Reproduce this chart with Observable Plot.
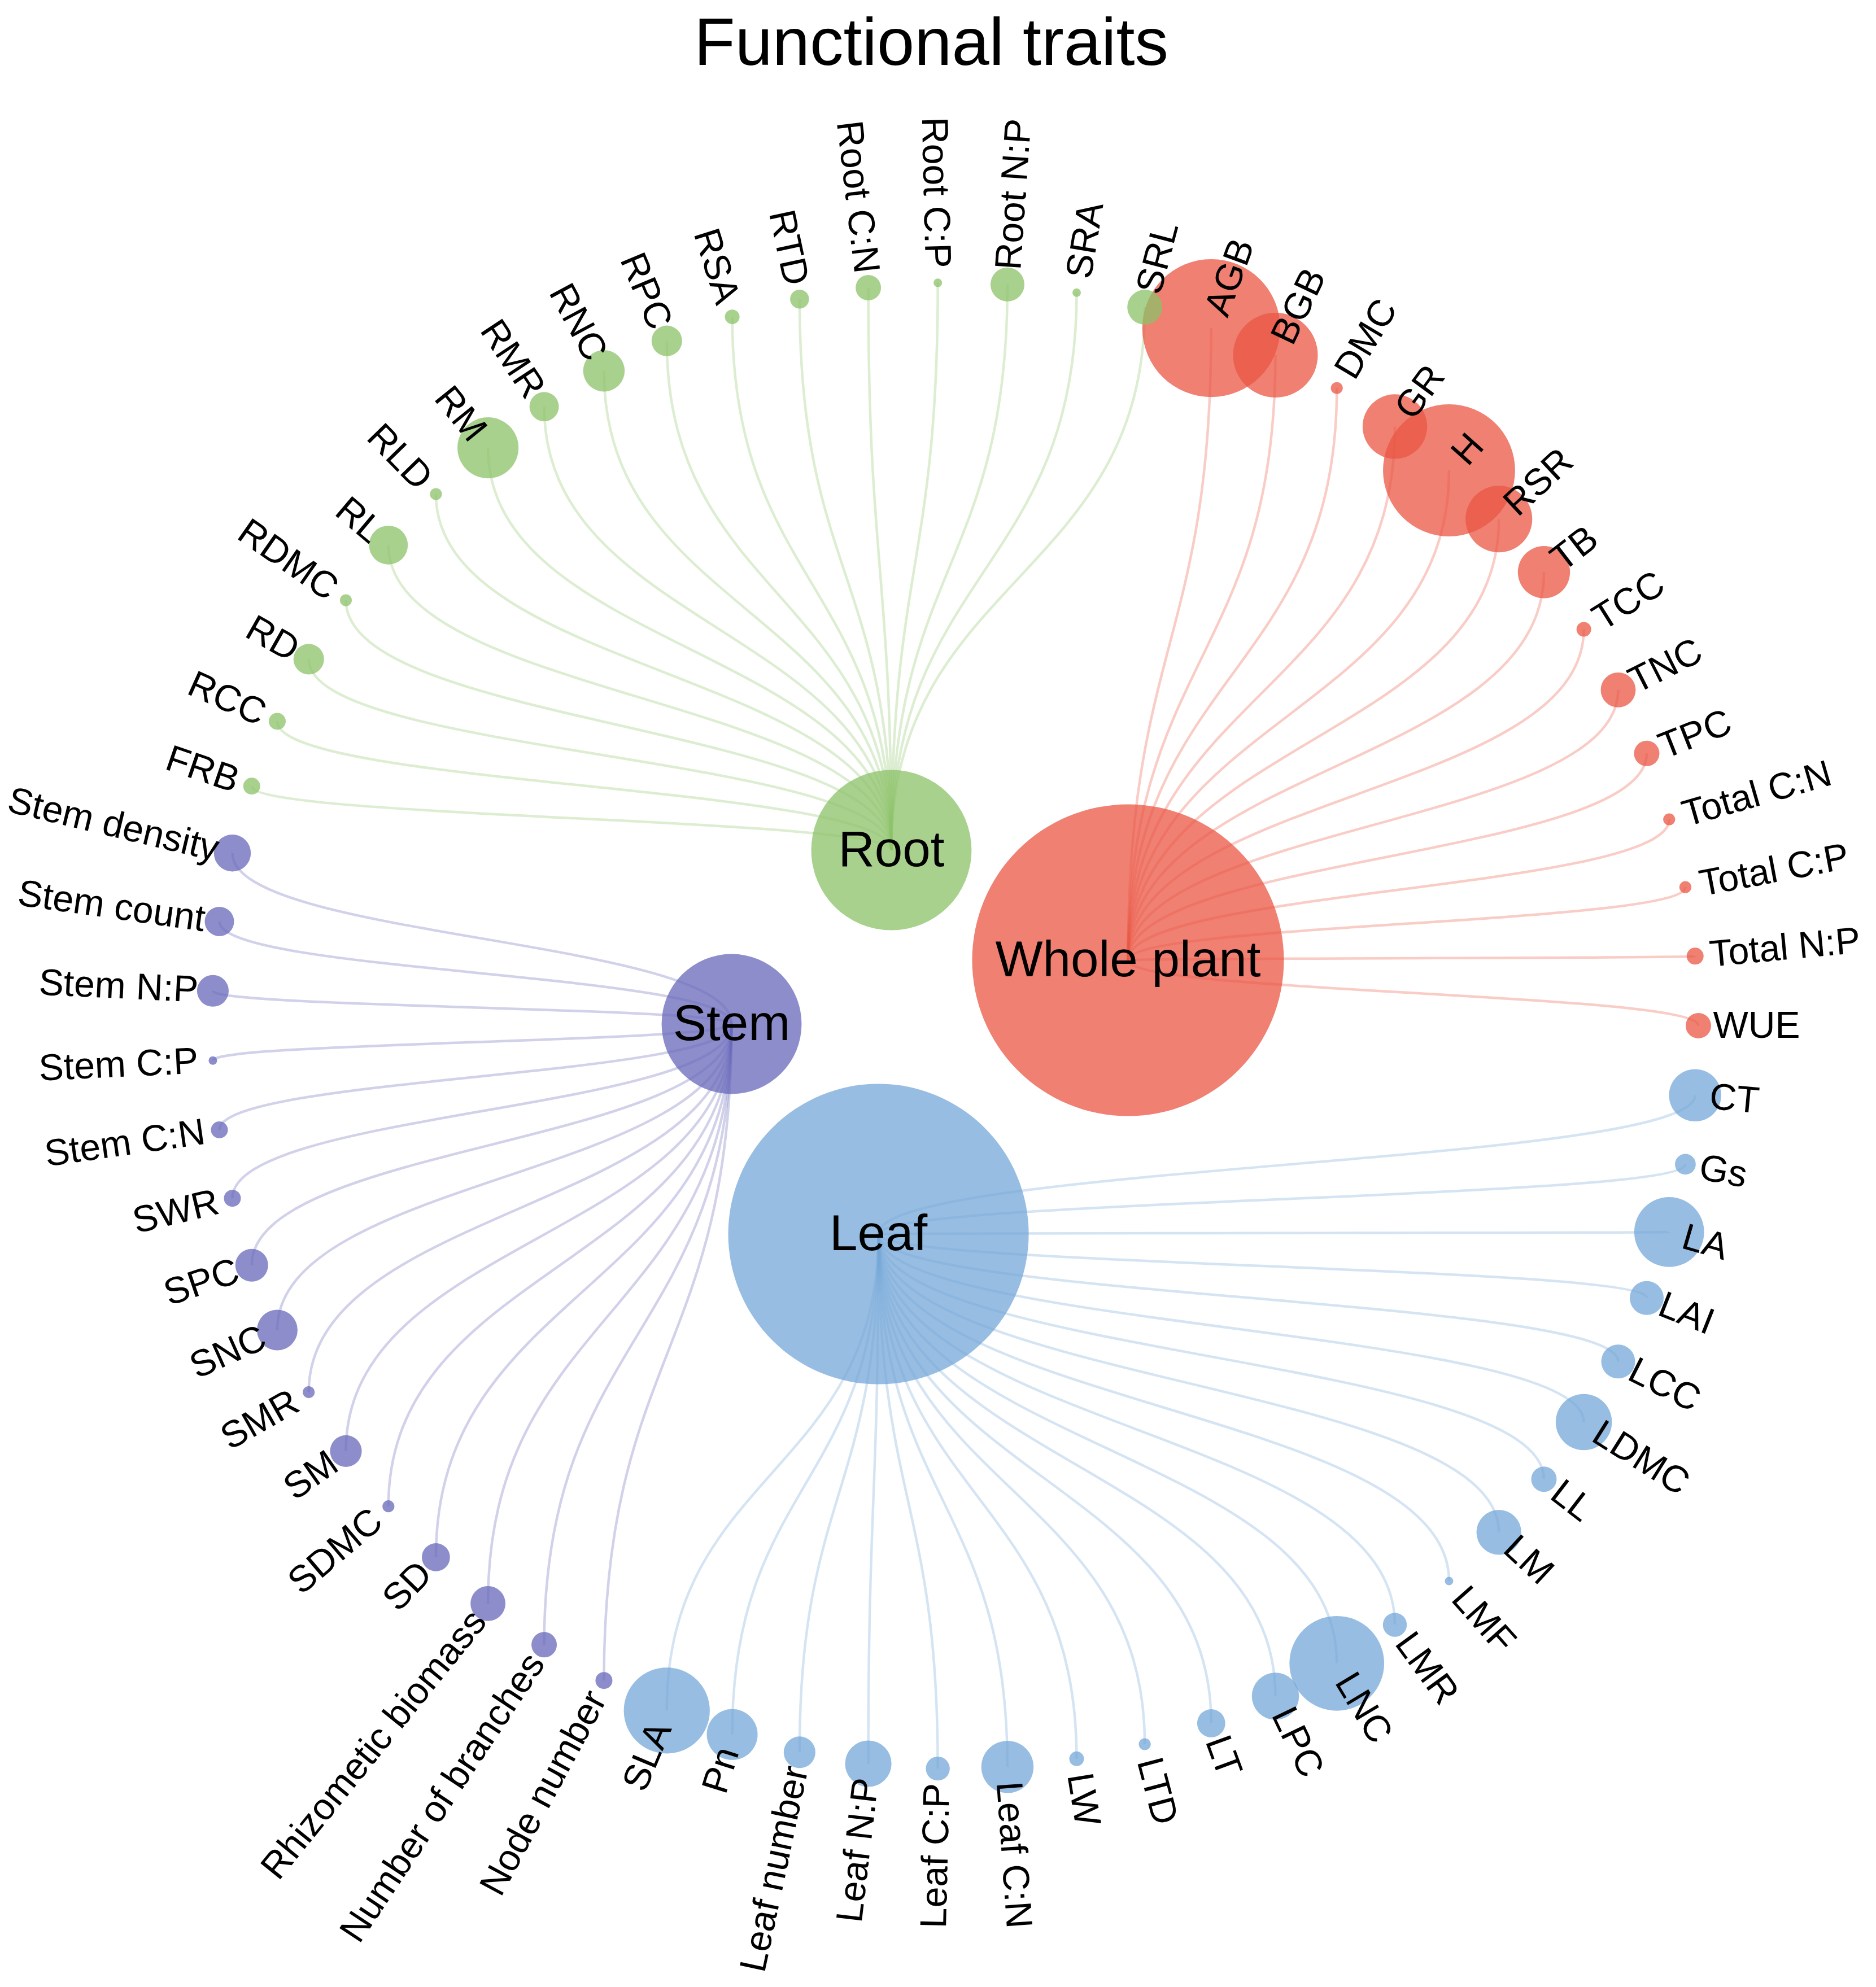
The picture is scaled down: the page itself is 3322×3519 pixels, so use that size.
<!DOCTYPE html>
<html>
<head>
<meta charset="utf-8">
<script src="https://cdn.jsdelivr.net/npm/d3@7"></script>
<script src="https://cdn.jsdelivr.net/npm/@observablehq/plot@0.6"></script>
<style>
html, body { margin: 0; padding: 0; background: #fff; }
#title {
  width: 3322px; height: 148px; line-height: 148px;
  font-family: "Liberation Sans", Arial, sans-serif; font-size: 119px;
  text-align: center; color: #000; padding-right: 24px; box-sizing: border-box;
}
#chart svg { display: block; }
</style>
</head>
<body>
<div id="title">Functional traits</div>
<div id="chart"></div>
<script>
// ---------------- data ----------------
const groups = ["Whole plant", "Leaf", "Stem", "Root"];
const groupValues = [1354, 1258, 273, 358];

const wholePlantTraits = ["AGB","BGB","DMC","GR","H","RSR","TB","TCC","TNC","TPC","Total C:N","Total C:P","Total N:P","WUE"];
const wholePlantValues = [265, 100, 2, 58, 243, 62, 38, 3, 17, 9, 2, 2, 4, 9];

const leafTraits = ["CT","Gs","LA","LAI","LCC","LDMC","LL","LM","LMF","LMR","LNC","LPC","LT","LTD","LW","Leaf C:N","Leaf C:P","Leaf N:P","Leaf number","Pn","SLA"];
const leafValues = [38, 6, 68, 16, 16, 44, 9, 28, 1, 8, 125, 31, 11, 2, 3, 38, 8, 30, 14, 36, 103];

const stemTraits = ["Node number","Number of branches","Rhizometic biomass","SD","SDMC","SM","SMR","SNC","SPC","SWR","Stem C:N","Stem C:P","Stem N:P","Stem count","Stem density"];
const stemValues = [4, 9, 17, 11, 2, 14, 2, 23, 15, 4, 4, 1, 14, 12, 19];

const rootTraits = ["FRB","RCC","RD","RDMC","RL","RLD","RM","RMR","RNC","RPC","RSA","RTD","Root C:N","Root C:P","Root N:P","SRA","SRL"];
const rootValues = [4, 4, 13, 2, 21, 2, 52, 12, 24, 13, 3, 5, 9, 1, 16, 1, 17];

// ---------------- layout / style ----------------
const groupColors = ["#EA5643", "#74A7D8", "#6767BA", "#8CC268"];
const layout = {
  width: 3322, height: 3371,
  cx: 1691, cy: 1668, R: 1316,
  startAngle: 20.15,       // degrees, clockwise from top, of first trait
  labelOffset: 26,         // px beyond node centre
  hubs: {                  // unit-circle coordinates of group hubs
    "Whole plant": [0.2325, -0.0881],
    "Leaf": [-0.1033, 0.2804],
    "Stem": [-0.3009, -0.0023],
    "Root": [-0.0859, -0.2363]
  }
};
const font = "'Liberation Sans', Arial, sans-serif";

// ---------------- build nodes ----------------
const groupTraits = [wholePlantTraits, leafTraits, stemTraits, rootTraits];
const groupTraitValues = [wholePlantValues, leafValues, stemValues, rootValues];
const nLeaves = groupTraits.reduce((s, a) => s + a.length, 0);
const step = 360 / nLeaves;
const off = layout.labelOffset / layout.R;

const hubs = groups.map((g, i) => ({
  name: g, group: g, value: groupValues[i],
  x: layout.hubs[g][0], y: layout.hubs[g][1]
}));
const hubBy = Object.fromEntries(hubs.map(h => [h.name, h]));

const leaves = [];
let k = 0;
groups.forEach((g, gi) => {
  groupTraits[gi].forEach((name, j) => {
    const a = layout.startAngle + k * step; k++;
    const ang = ((a % 360) + 360) % 360;
    const rad = ang * Math.PI / 180;
    const right = ang < 180;
    leaves.push({
      name, group: g, value: groupTraitValues[gi][j],
      x: Math.sin(rad), y: -Math.cos(rad),
      lx: (1 + off) * Math.sin(rad), ly: -(1 + off) * Math.cos(rad),
      right, rotate: right ? ang - 90 : ang + 90 - 360
    });
  });
});

const links = leaves.map(l => ({
  group: l.group,
  x1: hubBy[l.group].x, y1: hubBy[l.group].y,
  x2: l.x, y2: l.y
}));

// ---------------- plot ----------------
const chart = Plot.plot({
  width: layout.width,
  height: layout.height,
  margin: 0,
  x: { domain: [-1, 1], range: [layout.cx - layout.R, layout.cx + layout.R], axis: null },
  y: { domain: [-1, 1], range: [layout.cy - layout.R, layout.cy + layout.R], axis: null },
  r: { type: "sqrt", domain: [0, 1354], range: [0, 276] },
  color: { domain: groups, range: groupColors },
  style: { fontFamily: font, background: "#fff" },
  marks: [
    Plot.link(links, {
      x1: "x1", y1: "y1", x2: "x2", y2: "y2",
      curve: "bump-y", stroke: "group", strokeOpacity: 0.3, strokeWidth: 4.5
    }),
    Plot.dot(hubs, { x: "x", y: "y", r: "value", fill: "group", fillOpacity: 0.75 }),
    Plot.dot(leaves, { x: "x", y: "y", r: "value", fill: "group", fillOpacity: 0.75 }),
    Plot.text(leaves.filter(d => d.right), {
      x: "lx", y: "ly", text: "name", rotate: "rotate",
      textAnchor: "start", fontSize: 66, fill: "#000", fontFamily: font
    }),
    Plot.text(leaves.filter(d => !d.right), {
      x: "lx", y: "ly", text: "name", rotate: "rotate",
      textAnchor: "end", fontSize: 66, fill: "#000", fontFamily: font
    }),
    Plot.text(hubs, {
      x: "x", y: "y", text: "name", fontSize: 89, fill: "#000", fontFamily: font
    })
  ]
});
document.getElementById("chart").appendChild(chart);
</script>
</body>
</html>
